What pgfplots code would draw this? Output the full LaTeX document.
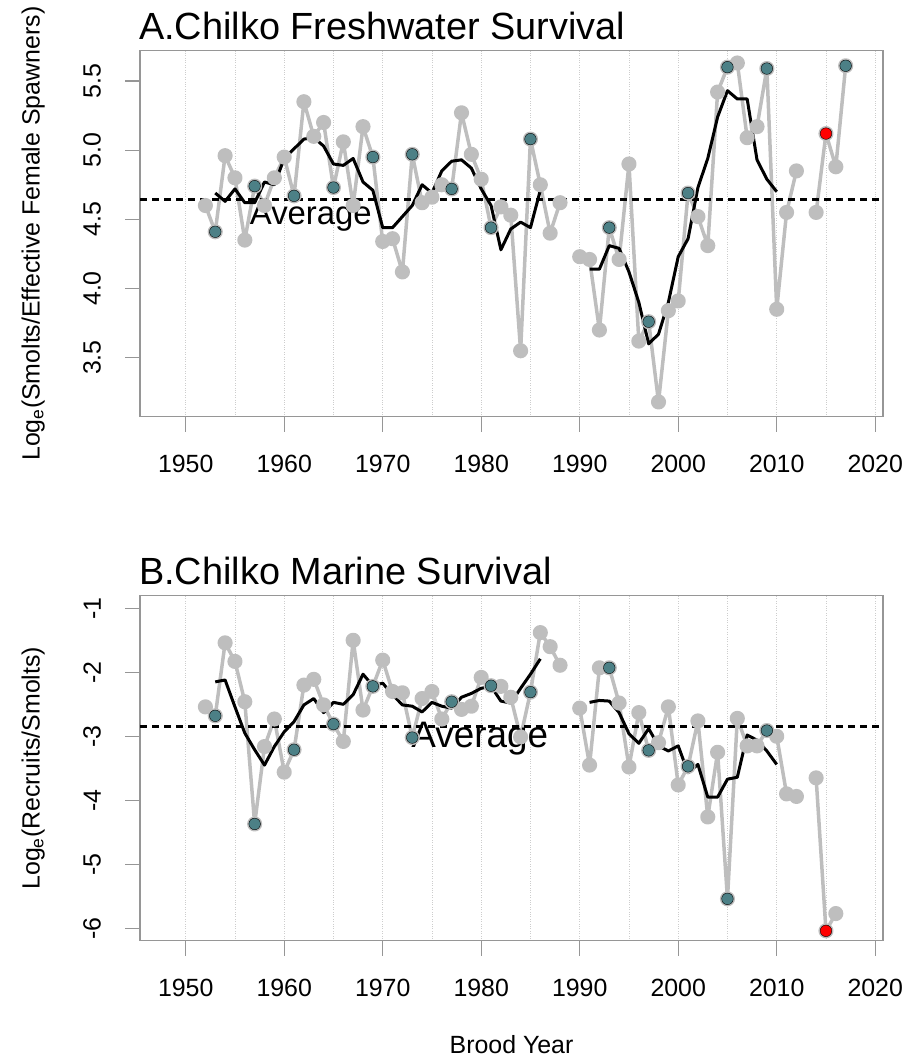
\documentclass[border=0pt]{standalone}
\usepackage{fontspec}
\setmainfont{Liberation Sans}
\usepackage{pgfplots}
\usepackage{pgfplotstable}
\pgfplotsset{compat=1.18}

\definecolor{ptgray}{RGB}{190,190,190}
\definecolor{sockeye}{RGB}{76,128,134}
\definecolor{boxgray}{RGB}{150,150,150}
\definecolor{gridgray}{RGB}{205,205,205}

% year, log(smolts/EFS), log(recruits/smolts)
\pgfplotstableread{
year fw mar
1952 4.60 -2.54
1953 4.41 -2.68
1954 4.96 -1.54
1955 4.80 -1.83
1956 4.35 -2.46
1957 4.74 -4.37
1958 4.60 -3.16
1959 4.80 -2.73
1960 4.95 -3.56
1961 4.67 -3.21
1962 5.35 -2.20
1963 5.10 -2.11
1964 5.20 -2.51
1965 4.73 -2.81
1966 5.06 -3.08
1967 4.60 -1.50
1968 5.17 -2.59
1969 4.95 -2.22
1970 4.34 -1.81
1971 4.36 -2.30
1972 4.12 -2.32
1973 4.97 -3.02
1974 4.62 -2.41
1975 4.66 -2.30
1976 4.75 -2.73
1977 4.72 -2.46
1978 5.27 -2.58
1979 4.97 -2.53
1980 4.79 -2.08
1981 4.44 -2.21
1982 4.59 -2.22
1983 4.53 -2.39
1984 3.55 -3.01
1985 5.08 -2.31
1986 4.75 -1.38
1987 4.40 -1.60
1988 4.62 -1.89
1989 nan nan
1990 4.23 -2.56
1991 4.21 -3.45
1992 3.70 -1.93
1993 4.44 -1.93
1994 4.21 -2.48
1995 4.90 -3.48
1996 3.62 -2.63
1997 3.76 -3.22
1998 3.18 -3.10
1999 3.84 -2.54
2000 3.91 -3.76
2001 4.69 -3.47
2002 4.52 -2.76
2003 4.31 -4.26
2004 5.42 -3.25
2005 5.60 -5.54
2006 5.63 -2.72
2007 5.09 -3.15
2008 5.17 -3.15
2009 5.59 -2.91
2010 3.85 -3.00
2011 4.55 -3.90
2012 4.85 -3.94
2013 nan nan
2014 4.55 -3.65
2015 5.12 -6.04
2016 4.88 -5.77
2017 5.61 nan
}\survival

% cycle-line years
\pgfplotstableread{
year fw mar
1953 4.41 -2.68
1957 4.74 -4.37
1961 4.67 -3.21
1965 4.73 -2.81
1969 4.95 -2.22
1973 4.97 -3.02
1977 4.72 -2.46
1981 4.44 -2.21
1985 5.08 -2.31
1993 4.44 -1.93
1997 3.76 -3.22
2001 4.69 -3.47
2005 5.60 -5.54
2009 5.59 -2.91
2017 5.61 nan
}\cycle

% running average
\pgfplotstableread{
year fw mar
1953 4.69 -2.15
1954 4.63 -2.12
1955 4.72 -2.54
1956 4.62 -2.95
1957 4.62 -3.21
1958 4.77 -3.45
1959 4.75 -3.16
1960 4.94 -2.93
1961 5.01 -2.77
1962 5.08 -2.51
1963 5.09 -2.41
1964 5.03 -2.63
1965 4.90 -2.47
1966 4.89 -2.50
1967 4.94 -2.35
1968 4.77 -2.03
1969 4.71 -2.21
1970 4.44 -2.17
1971 4.44 -2.35
1972 4.52 -2.51
1973 4.60 -2.53
1974 4.75 -2.62
1975 4.69 -2.47
1976 4.85 -2.53
1977 4.92 -2.56
1978 4.93 -2.39
1979 4.87 -2.33
1980 4.72 -2.25
1981 4.60 -2.22
1982 4.28 -2.45
1983 4.43 -2.48
1984 4.48 -2.25
1985 4.44 -2.03
1986 4.71 -1.79
1988 nan nan
1991 4.14 -2.47
1992 4.14 -2.44
1993 4.31 -2.45
1994 4.29 -2.63
1995 4.12 -2.96
1996 3.90 -3.11
1997 3.60 -2.88
1998 3.67 -3.15
1999 3.90 -3.23
2000 4.23 -3.15
2001 4.36 -3.57
2002 4.73 -3.44
2003 4.94 -3.95
2004 5.24 -3.95
2005 5.43 -3.67
2006 5.37 -3.64
2007 5.37 -2.98
2008 4.93 -3.06
2009 4.79 -3.23
2010 4.70 -3.44
}\runavg

\pgfplotsset{
  chilko/.style={
    scale only axis, width=743bp,
    xmin=1945.36, xmax=2020.79,
    axis line style={draw=boxgray, line width=1.2bp},
    tick style={draw=boxgray, line width=1.2bp},
    tick align=outside, major tick length=15bp, minor tick length=0pt,
    xtick pos=left, ytick pos=left,
    xtick={1950,1960,...,2020},
    xticklabels={1950,1960,1970,1980,1990,2000,2010,2020},
    minor xtick={1955,1965,...,2015},
    xmajorgrids, xminorgrids,
    major grid style={gridgray, dotted, line width=0.9bp},
    minor grid style={gridgray, dotted, line width=0.9bp},
    xticklabel style={font=\fontsize{25}{30}\selectfont, anchor=north, inner sep=0pt},
    yticklabel style={font=\fontsize{25}{30}\selectfont, rotate=90, anchor=south, inner sep=0pt},
    xticklabel shift=23bp, yticklabel shift=24bp,
    unbounded coords=jump,
    gline/.style={ptgray, line width=3.5bp, line join=round, mark=*, mark size=5.8bp,
      mark options={draw=none, fill=ptgray}},
    tdot/.style={only marks, mark=*, mark size=5.8bp,
      mark options={draw=none, fill=sockeye}},
    rdot/.style={only marks, mark=*, mark size=5.8bp,
      mark options={draw=none, fill=red}},
    avg/.style={black, line width=3bp, line join=round},
    mean/.style={black, line width=3bp, dash pattern=on 7bp off 5bp},
  }
}

\begin{document}
\begin{tikzpicture}
\useasboundingbox (0,0) rectangle (918bp,1060bp);

\begin{axis}[chilko, at={(140bp,643.3bp)}, anchor=south west, height=366bp,
  ymin=3.0735, ymax=5.719,
  ytick={3.5,4.0,4.5,5.0,5.5}, yticklabels={3.5,4.0,4.5,5.0,5.5}]
\addplot[gline] table[x=year, y=fw] {\survival};
\addplot[tdot] table[x=year, y=fw] {\cycle};
\addplot[rdot] coordinates {(2015,5.12)};
\addplot[avg] table[x=year, y=fw] {\runavg};
\addplot[mean] coordinates {(1945.36,4.645) (2020.79,4.645)};
\node[anchor=base west, inner sep=0pt, font=\fontsize{33}{40}\selectfont]
  at (axis cs:1956.5,4.46) {Average};
\end{axis}

\begin{axis}[chilko, at={(140bp,119.3bp)}, anchor=south west, height=345bp,
  ymin=-6.194, ymax=-0.803,
  ytick={-6,-5,-4,-3,-2,-1}, yticklabels={-6,-5,-4,-3,-2,-1}]
\addplot[gline] table[x=year, y=mar] {\survival};
\addplot[tdot] table[x=year, y=mar] {\cycle};
\addplot[rdot] coordinates {(2015,-6.04)};
\addplot[avg] table[x=year, y=mar] {\runavg};
\addplot[mean] coordinates {(1945.36,-2.84) (2020.79,-2.84)};
\node[anchor=base west, inner sep=0pt, font=\fontsize{37}{44}\selectfont]
  at (axis cs:1972.9,-3.18) {Average};
\end{axis}

\node[anchor=base west, inner sep=0pt, font=\fontsize{38}{45}\selectfont]
  at (139bp,1020bp) {A.Chilko Freshwater Survival};
\node[anchor=base west, inner sep=0pt, font=\fontsize{38}{45}\selectfont]
  at (139bp,475bp) {B.Chilko Marine Survival};
\node[rotate=90, anchor=base, inner sep=0pt, font=\fontsize{25}{30}\selectfont]
  at (39.7bp,826.3bp) {Log\textsubscript{e}(Smolts/Effective Female Spawners)};
\node[rotate=90, anchor=base, inner sep=0pt, font=\fontsize{25}{30}\selectfont]
  at (39.7bp,291.7bp) {Log\textsubscript{e}(Recruits/Smolts)};
\node[anchor=base, inner sep=0pt, font=\fontsize{25}{30}\selectfont]
  at (511.5bp,7bp) {Brood Year};
\end{tikzpicture}
\end{document}
